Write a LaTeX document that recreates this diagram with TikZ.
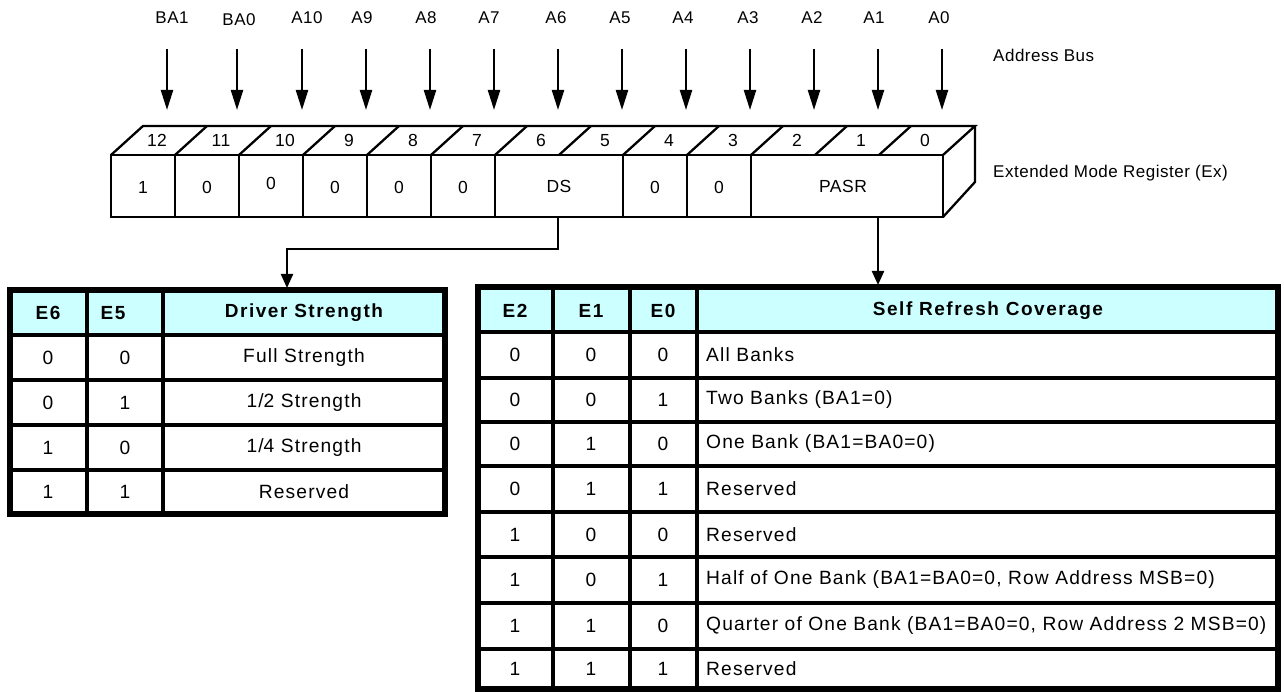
\documentclass[tikz,border=0pt]{standalone}
\usepackage{fontspec}
\setmainfont{Liberation Sans}
\newfontfamily\lblfont[LetterSpace=3]{Liberation Sans}
\newfontfamily\tabfont[LetterSpace=6]{Liberation Sans}
\newfontfamily\hdfont[LetterSpace=8]{Liberation Sans}
\usetikzlibrary{arrows.meta}
\definecolor{hdcyan}{HTML}{CCFFFF}
\begin{document}
\begin{tikzpicture}[x=1pt,y=-1pt,
  reg/.style={line width=2.3pt,line join=miter},
  arr/.style={line width=2.2pt,-{Triangle[length=20pt,width=12pt]}},
  conn/.style={line width=2.2pt,-{Triangle[length=14pt,width=12pt]}},
  lbl/.style={font=\lblfont\fontsize{17}{20}\selectfont,inner sep=0pt},
  regtxt/.style={font=\lblfont\fontsize{17.5}{20}\selectfont,inner sep=0pt},
  tab/.style={font=\tabfont\fontsize{19.2}{22}\selectfont,inner sep=0pt},
  hd/.style={font=\hdfont\bfseries\fontsize{19}{22}\selectfont,inner sep=0pt},
  outer/.style={line width=6pt,line join=miter},
  grid/.style={line width=3.5pt}]
\useasboundingbox (0,0) rectangle (1284,692);

% ---------- address bus ----------
\foreach \n/\lx/\ly/\ax in {BA1/172/18/167,BA0/239/20/237,A10/307/18/302,A9/362/18/366,A8/426/18/430,A7/489/18/494,A6/556/18/558,A5/620/18/622,A4/683/18/686,A3/748/18/750,A2/812/18/814,A1/874/18/878,A0/939/18/942}{
  \node[lbl] (l\n) at (\lx,\ly) {\n};
  \coordinate (s\n) at (\ax,49);
  \coordinate (e\n) at (\ax,110);
  \draw[arr] (s\n) -- (e\n);
}
\node[lbl,anchor=west] (abus) at (993,55) {Address Bus};

% ---------- register ----------
\draw[reg] (111,155) rectangle (943,217);
\draw[reg] (111,155) -- (143,126) -- (975,126) -- (943,155);
\draw[reg] (943,217) -- (975,182) -- (975,126);
\foreach \k in {1,...,12} \draw[reg] ({111+64*\k},155) -- ({143+64*\k},126);
\foreach \k in {1,2,3,4,5,6,8,9,10} \draw[reg] ({111+64*\k},155) -- ({111+64*\k},217);
\foreach \k in {0,...,12}{
  \pgfmathtruncatemacro{\b}{12-\k}
  \node[regtxt] (n\b) at ({157+64*\k},140.5) {\b};
}
\node[regtxt] (v12) at (143,187) {1};
\node[regtxt] (v11) at (207,187) {0};
\node[regtxt] (v10) at (271,183) {0};
\node[regtxt] (v9) at (335,187) {0};
\node[regtxt] (v8) at (399,187) {0};
\node[regtxt] (v7) at (463,187) {0};
\node[regtxt] (vDS) at (559,186) {DS};
\node[regtxt] (v4) at (655,187) {0};
\node[regtxt] (v3) at (719,187) {0};
\node[regtxt] (vPASR) at (843,186) {PASR};
\node[lbl,anchor=west] (emr) at (993,173) {Extended Mode Register (Ex)};

% ---------- connectors ----------
\coordinate (dsout) at (558,217);
\coordinate (ltin) at (287,288);
\coordinate (pasrout) at (878,217);
\coordinate (rtin) at (878,285);
\draw[conn] (dsout) -- ++(0,32) -| (ltin);
\draw[conn] (pasrout) -- (rtin);

% ---------- left table ----------
\fill[hdcyan] (10,290.5) rectangle (445,335);
\foreach \x in {87,163} \draw[grid] (\x,290.5) -- (\x,514);
\foreach \y in {335,380,425,470} \draw[grid] (10,\y) -- (445,\y);
\draw[outer] (10,290.5) rectangle (445,514);
\node[hd] (hE6) at (48,313) {E6};
\node[hd] (hE5) at (113,313) {E5};
\node[hd] (hDS) at (304,313) {Driver Strength};
\foreach \a/\c/\t/\y [count=\i] in {0/0/Full Strength/357.5,0/1/1\slash 2 Strength/402.5,1/0/1\slash 4 Strength/447.5,1/1/Reserved/492}{
  \node[tab] (la\i) at (48,\y) {\a};
  \node[tab] (lb\i) at (125,\y) {\c};
  \node[tab] (lc\i) at (304,\y) {\t};
}

% ---------- right table ----------
\fill[hdcyan] (478,287.5) rectangle (1278,332);
\foreach \x in {553,630,697} \draw[grid] (\x,287.5) -- (\x,689);
\foreach \y in {332,378,422,466,512,557,603,649} \draw[grid] (478,\y) -- (1278,\y);
\draw[outer] (478,287.5) rectangle (1278,689);
\node[hd] (hE2) at (515,311) {E2};
\node[hd] (hE1) at (591,311) {E1};
\node[hd] (hE0) at (663,311) {E0};
\node[hd] (hSR) at (988,311) {Self Refresh Coverage};
\foreach \a/\b/\c/\t/\y [count=\i] in {
  0/0/0/All Banks/355,
  0/0/1/Two Banks (BA1=0)/400,
  0/1/0/One Bank (BA1=BA0=0)/444,
  0/1/1/Reserved/489,
  1/0/0/Reserved/534.5,
  1/0/1/{Half of One Bank (BA1=BA0=0, Row Address MSB=0)}/580,
  1/1/0/{Quarter of One Bank (BA1=BA0=0, Row Address 2 MSB=0)}/626,
  1/1/1/Reserved/669}{
  \node[tab] (ra\i) at (515,\y) {\a};
  \node[tab] (rb\i) at (591,\y) {\b};
  \node[tab] (rc\i) at (663,\y) {\c};
  \node[tab,anchor=west] (rd\i) at (706,\y) {\t};
}
\end{tikzpicture}
\end{document}
